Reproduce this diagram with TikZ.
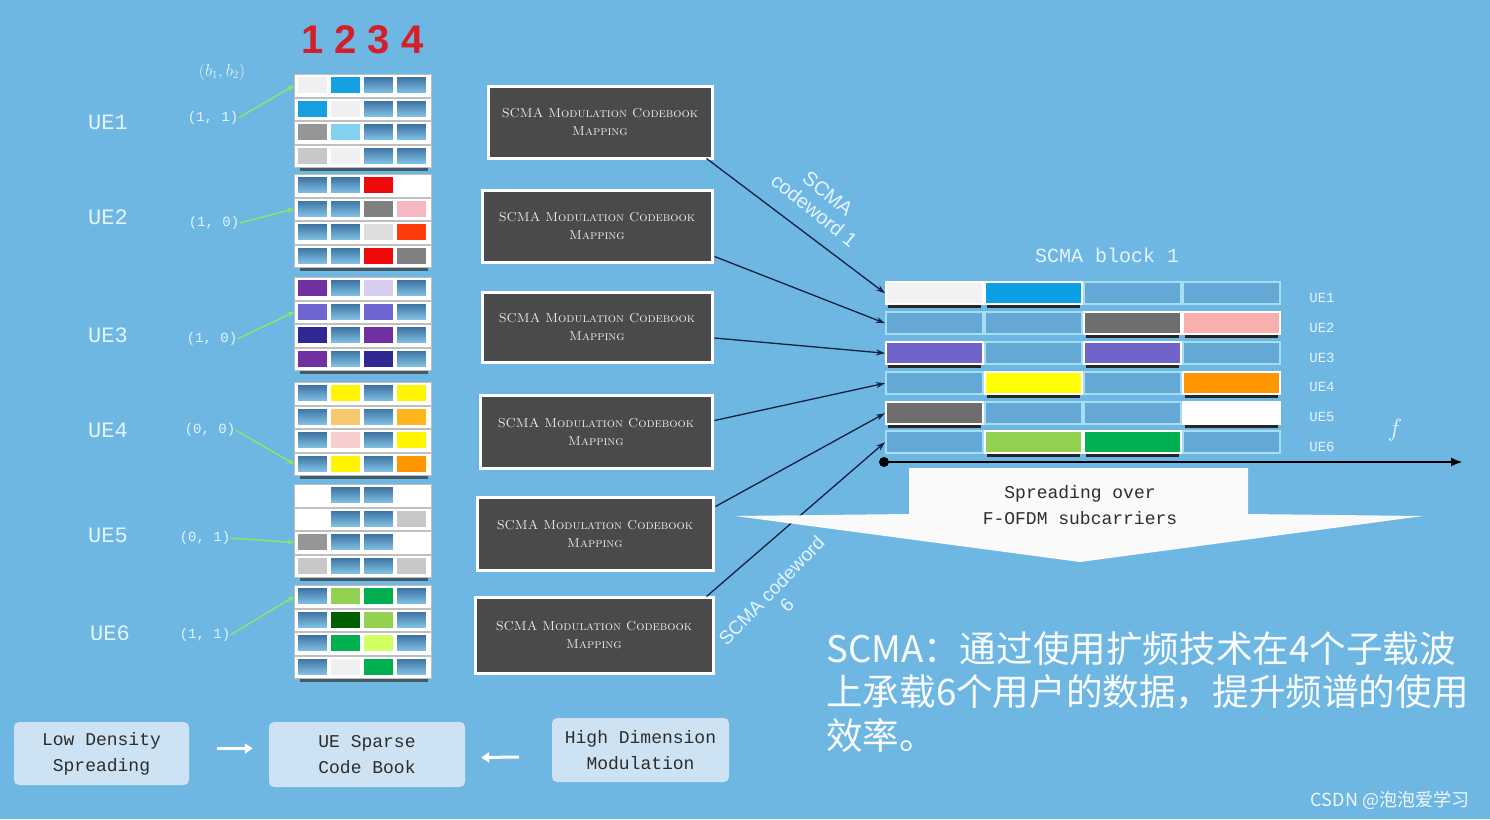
\documentclass[tikz,border=0pt]{standalone}
\usepackage{fontspec}
\newfontfamily\monof{Liberation Mono}
\newfontfamily\sansf{Liberation Sans}
\newfontfamily\cjk{Noto Sans CJK SC}
\usetikzlibrary{arrows.meta,calc}
\definecolor{bg}{RGB}{110,183,227}
\definecolor{txtl}{RGB}{228,245,255}
\definecolor{bdark}{RGB}{58,112,160}
\definecolor{blight}{RGB}{132,196,230}
\definecolor{bcell}{RGB}{100,168,214}
\definecolor{bcellb}{RGB}{165,222,245}
\definecolor{modgray}{RGB}{74,74,74}
\definecolor{navy}{RGB}{18,32,66}
\definecolor{gArrow}{RGB}{140,228,110}
\definecolor{boxfill}{RGB}{205,226,242}
\definecolor{boxtext}{RGB}{45,45,45}
\definecolor{hdr}{RGB}{212,30,40}
% codebook colours
\definecolor{cW}{RGB}{240,240,240}
\definecolor{cWhite}{RGB}{255,255,255}
\definecolor{cCyan}{RGB}{20,160,225}
\definecolor{cLCyan}{RGB}{130,210,240}
\definecolor{cGray}{RGB}{150,150,150}
\definecolor{cLGray}{RGB}{200,200,200}
\definecolor{cVLGray}{RGB}{222,222,222}
\definecolor{cDGray}{RGB}{128,128,128}
\definecolor{cRed}{RGB}{238,10,10}
\definecolor{cPink}{RGB}{245,185,195}
\definecolor{cORed}{RGB}{255,60,10}
\definecolor{cPurple}{RGB}{112,48,160}
\definecolor{cLav}{RGB}{215,205,238}
\definecolor{cMPurple}{RGB}{110,100,210}
\definecolor{cDBlue}{RGB}{48,40,145}
\definecolor{cYellow}{RGB}{255,245,0}
\definecolor{cLOrange}{RGB}{248,200,110}
\definecolor{cOrange}{RGB}{255,180,30}
\definecolor{cLPink}{RGB}{248,205,205}
\definecolor{cDOrange}{RGB}{255,150,0}
\definecolor{cYG}{RGB}{146,208,80}
\definecolor{cGreen}{RGB}{0,176,80}
\definecolor{cDGreen}{RGB}{0,96,0}
\definecolor{cLYG}{RGB}{210,255,100}
% block colours
\definecolor{bW}{RGB}{242,242,242}
\definecolor{bCyan}{RGB}{10,160,225}
\definecolor{bGray}{RGB}{110,110,110}
\definecolor{bPink}{RGB}{250,175,175}
\definecolor{bPurple}{RGB}{112,100,200}
\definecolor{bYellow}{RGB}{255,255,0}
\definecolor{bOrange}{RGB}{255,150,0}
\definecolor{bWhite}{RGB}{255,255,255}
\definecolor{bYG}{RGB}{146,208,80}
\definecolor{bGreen}{RGB}{0,176,80}
\def\Bkey{B}
\newcommand{\cbrow}[3]{%
  \node[cbframe] (#1) at (294,#2) {};
  \foreach \cc [count=\i] in {#3} {%
    \pgfmathsetmacro{\xl}{297+33*(\i-1)}%
    \ifx\cc\Bkey
      \path[draw=white, line width=0.8pt, top color=bdark, bottom color=blight] (\xl,#2+2.5) rectangle ++(30,17);
    \else
      \path[draw=white, line width=0.8pt, fill=\cc] (\xl,#2+2.5) rectangle ++(30,17);
    \fi
  }%
}
\newcommand{\blrow}[3]{%
  \node[anchor=north west, minimum width=396pt, minimum height=22pt, inner sep=0pt] (#1) at (885,#2) {};
  \foreach \cc [count=\i] in {#3} {%
    \pgfmathsetmacro{\xl}{885+99*(\i-1)}%
    \ifx\cc\Bkey
      \path[draw=bcellb, line width=1.2pt, fill=bcell] (\xl+1,#2) rectangle ++(97,22);
    \else
      \fill[black!85] (\xl+3,#2+22) rectangle ++(93,4);
      \path[draw=white, line width=1.5pt, fill=\cc] (\xl+1,#2) rectangle ++(97,22);
    \fi
  }%
}
\begin{document}
\begin{tikzpicture}[x=1pt,y=-1pt,
  cbframe/.style={anchor=north west, fill=white, draw=black!25, line width=0.5pt, minimum width=137pt, minimum height=22.5pt, inner sep=0pt},
  uelab/.style={font=\monof\fontsize{22}{24}\selectfont, text=txtl, inner sep=0pt},
  bitlab/.style={font=\monof\fontsize{14}{16}\selectfont, text=txtl, inner sep=0pt},
  rlab/.style={font=\monof\fontsize{14}{16}\selectfont, text=txtl, inner sep=0pt},
  modbox/.style={fill=modgray, draw=white, line width=3pt, align=center, text=white!92!black, font=\fontsize{13}{18}\selectfont\scshape, inner sep=0pt},
  conn/.style={draw=navy, line width=1.3pt, -{Stealth[length=9pt,width=6pt]}},
  garrow/.style={draw=gArrow, line width=1.5pt, -{Stealth[length=7pt,width=6pt]}},
  botbox/.style={fill=boxfill, rounded corners=5pt, text=boxtext, font=\monof\fontsize{18}{26}\selectfont, align=center, inner sep=0pt},
  warrow/.style={draw=white, line width=3pt, -{Triangle[length=8pt,width=10pt]}},
  hdrlab/.style={font=\sansf\bfseries\fontsize{40}{40}\selectfont, text=hdr, inner sep=0pt}
]
\useasboundingbox (0,0) rectangle (1490,819);
\fill[bg] (0,0) rectangle (1490,819);

% header digits
\node[hdrlab] (h1) at (312.5,40) {1};
\node[hdrlab] (h2) at (346,40) {2};
\node[hdrlab] (h3) at (379,40) {3};
\node[hdrlab] (h4) at (412.5,40) {4};
\node[bitlab, font=\fontsize{16}{18}\selectfont] (bb) at (222,72) {$(b_1,b_2)$};

% UE labels
\node[uelab] (u1) at (108,122) {UE1};
\node[uelab] (u2) at (108,217) {UE2};
\node[uelab] (u3) at (108,335) {UE3};
\node[uelab] (u4) at (108,430) {UE4};
\node[uelab] (u5) at (108,535) {UE5};
\node[uelab] (u6) at (110,633) {UE6};

% codebook groups
\foreach \s in {75,175,278,383,485,586} {\fill[black!80,opacity=.7] (300,\s+92) rectangle (428,\s+96);}
\cbrow{r11}{74}{cW,cCyan,B,B}
\cbrow{r12}{97.5}{cCyan,cW,B,B}
\cbrow{r13}{121}{cGray,cLCyan,B,B}
\cbrow{r14}{144.5}{cLGray,cW,B,B}
\cbrow{r21}{174}{B,B,cRed,cWhite}
\cbrow{r22}{197.5}{B,B,cDGray,cPink}
\cbrow{r23}{221}{B,B,cVLGray,cORed}
\cbrow{r24}{244.5}{B,B,cRed,cDGray}
\cbrow{r31}{277}{cPurple,B,cLav,B}
\cbrow{r32}{300.5}{cMPurple,B,cMPurple,B}
\cbrow{r33}{324}{cDBlue,B,cPurple,B}
\cbrow{r34}{347.5}{cPurple,B,cDBlue,B}
\cbrow{r41}{382}{B,cYellow,B,cYellow}
\cbrow{r42}{405.5}{B,cLOrange,B,cOrange}
\cbrow{r43}{429}{B,cLPink,B,cYellow}
\cbrow{r44}{452.5}{B,cYellow,B,cDOrange}
\cbrow{r51}{484}{cWhite,B,B,cWhite}
\cbrow{r52}{507.5}{cWhite,B,B,cLGray}
\cbrow{r53}{531}{cGray,B,B,cWhite}
\cbrow{r54}{554.5}{cLGray,B,B,cLGray}
\cbrow{r61}{585}{B,cYG,cGreen,B}
\cbrow{r62}{608.5}{B,cDGreen,cYG,B}
\cbrow{r63}{632}{B,cGreen,cLYG,B}
\cbrow{r64}{655.5}{B,cW,cGreen,B}

% bit labels and green arrows
\node[bitlab] (l1) at (213,118) {(1, 1)};
\node[bitlab] (l2) at (214,223) {(1, 0)};
\node[bitlab] (l3) at (212,339) {(1, 0)};
\node[bitlab] (l4) at (210,430) {(0, 0)};
\node[bitlab] (l5) at (205,538) {(0, 1)};
\node[bitlab] (l6) at (205,635) {(1, 1)};
\draw[garrow] (l1.east) -- (r11.west);
\draw[garrow] (l2.east) -- (r22.west);
\draw[garrow] (l3.east) -- (r32.west);
\draw[garrow] (l4.east) -- (r44.west);
\draw[garrow] (l5.east) -- (r53.west);
\draw[garrow] (l6.east) -- (r61.west);

% modulation boxes
\node[modbox, minimum width=224pt, minimum height=72pt] (m1) at (600,122) {SCMA Modulation Codebook\\Mapping};
\node[modbox, minimum width=230pt, minimum height=72pt] (m2) at (597,226) {SCMA Modulation Codebook\\Mapping};
\node[modbox, minimum width=230pt, minimum height=70pt] (m3) at (597,327) {SCMA Modulation Codebook\\Mapping};
\node[modbox, minimum width=232pt, minimum height=73pt] (m4) at (596,431.5) {SCMA Modulation Codebook\\Mapping};
\node[modbox, minimum width=236pt, minimum height=73pt] (m5) at (595,533.5) {SCMA Modulation Codebook\\Mapping};
\node[modbox, minimum width=238pt, minimum height=76pt] (m6) at (594,635) {SCMA Modulation Codebook\\Mapping};

% SCMA block
\node[font=\monof\fontsize{20}{22}\selectfont, text=txtl, inner sep=0pt] (blk) at (1107,255) {SCMA block 1};
\blrow{b1}{282}{bW,bCyan,B,B}
\blrow{b2}{312}{B,B,bGray,bPink}
\blrow{b3}{342}{bPurple,B,bPurple,B}
\blrow{b4}{372}{B,bYellow,B,bOrange}
\blrow{b5}{402}{bGray,B,B,bWhite}
\blrow{b6}{431}{B,bYG,bGreen,B}
\node[rlab] (q1) at (1322,298) {UE1};
\node[rlab] (q2) at (1322,328) {UE2};
\node[rlab] (q3) at (1322,358) {UE3};
\node[rlab] (q4) at (1322,387) {UE4};
\node[rlab] (q5) at (1322,417) {UE5};
\node[rlab] (q6) at (1322,447) {UE6};

% connectors
\draw[conn] ($(m1.south east)+(-7,-1)$) -- (b1.west);
\draw[conn] ($(m2.south east)+(1,-7)$) -- (b2.west);
\draw[conn] ($(m3.east)+(1,11)$) -- (b3.west);
\draw[conn] ($(m4.east)+(1,-11)$) -- (b4.west);
\draw[conn] ($(m5.north east)+(1,11)$) -- (b5.west);
\draw[conn] ($(m6.north east)+(-8,1)$) -- (b6.west);

% frequency axis
\node[circle, fill=black, inner sep=0pt, minimum size=10pt] (o) at (884,462) {};
\coordinate (fend) at (1463,462);
\draw[line width=2.5pt, -{Latex[length=12pt,width=9pt]}] (o.center) -- (fend);
\node[text=txtl, inner sep=0pt, font=\fontsize{34}{34}\selectfont] (fl) at (1395,430) {$f$};

% spreading arrow
\path[fill=white!96!gray] (909,468) -- (1248,468) -- (1248,514) -- (1423,516) -- (1080,562) -- (735,516) -- (909,514) -- cycle;
\node[font=\monof\fontsize{18}{26}\selectfont, text=boxtext, align=center, inner sep=0pt] (sp) at (1080,505) {Spreading over\\F-OFDM subcarriers};

% rotated codeword labels
\node[rotate=-39, align=center, text=txtl, font=\sansf\fontsize{20}{22}\selectfont, inner sep=0pt] (cw1) at (821,202) {SCMA\\codeword 1};
\node[rotate=46, align=center, text=txtl, font=\sansf\fontsize{19}{21}\selectfont, inner sep=0pt] (cw6) at (779,598) {SCMA codeword\\6};

% Chinese text
\node[anchor=north west, inner sep=0pt, align=left, text=white!96!bg, font=\cjk\fontsize{36.6}{43.5}\selectfont] (cn) at (826,631) {SCMA：通过使用扩频技术在4个子载波\\上承载6个用户的数据，提升频谱的使用\\效率。};
\node[inner sep=0pt, text=white!90!bg, font=\cjk\fontsize{18}{20}\selectfont] (wm) at (1390,800) {CSDN @泡泡爱学习};

% bottom boxes
\node[botbox, minimum width=175pt, minimum height=63pt] (bx1) at (101.5,753.5) {Low Density\\Spreading};
\node[botbox, minimum width=196pt, minimum height=65pt] (bx2) at (367,754.5) {UE Sparse\\Code Book};
\node[botbox, minimum width=177pt, minimum height=64pt] (bx3) at (640.5,750) {High Dimension\\Modulation};
\draw[warrow] ($(bx1.east)+(28,-5)$) -- ($(bx2.west)+(-16,-6)$);
\draw[warrow] ($(bx3.west)+(-33,7)$) -- ($(bx2.east)+(16,3)$);
\end{tikzpicture}
\end{document}
